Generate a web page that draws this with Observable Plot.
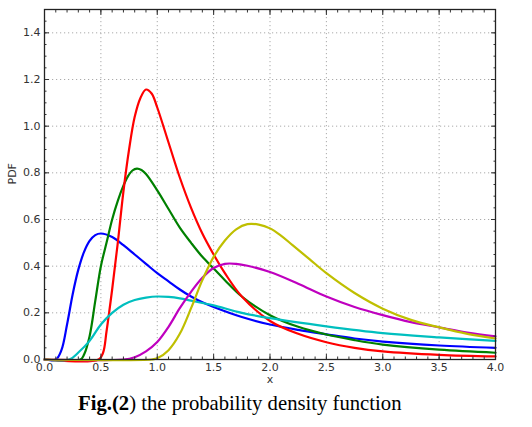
<!DOCTYPE html>
<html><head><meta charset="utf-8">
<script src="https://cdn.jsdelivr.net/npm/d3@7"></script>
<script src="https://cdn.jsdelivr.net/npm/@observablehq/plot@0.6"></script>
<style>
body{margin:0;background:#fff;position:relative;width:532px;height:427px;overflow:hidden}
#cap{font-family:"Liberation Serif","Times New Roman",serif;font-size:20.7px;line-height:1;position:absolute;left:78px;top:393px;white-space:nowrap;color:#000}
</style>
</head><body><div id="chart"></div><div id="cap"><b>Fig.(2</b>) the probability density function</div>
<script>
// series: [x, pdf]
const blue = [[0,0],[0.1,0],[0.15,0.04],[0.2,0.15],[0.25,0.28],[0.3,0.385],[0.35,0.46],[0.4,0.508],[0.45,0.533],[0.5,0.54],[0.6,0.525],[0.7,0.49],[0.8,0.45],[0.9,0.41],[1.0,0.37],[1.1,0.335],[1.2,0.30],[1.3,0.27],[1.4,0.245],[1.5,0.225],[1.75,0.182],[2.0,0.15],[2.25,0.127],[2.5,0.108],[2.75,0.09],[3.0,0.077],[3.5,0.06],[4.0,0.05]];
const green = [[0,0],[0.32,0],[0.35,0.02],[0.4,0.1],[0.45,0.25],[0.5,0.4],[0.55,0.5],[0.6,0.6],[0.65,0.68],[0.7,0.745],[0.74,0.785],[0.78,0.81],[0.82,0.818],[0.86,0.812],[0.9,0.795],[1.0,0.725],[1.1,0.645],[1.2,0.565],[1.3,0.5],[1.4,0.44],[1.5,0.39],[1.6,0.34],[1.75,0.27],[2.0,0.19],[2.25,0.14],[2.5,0.107],[2.75,0.083],[3.0,0.064],[3.5,0.042],[4.0,0.029]];
const red = [[0,0],[0.48,0],[0.52,0.03],[0.55,0.12],[0.6,0.3],[0.65,0.5],[0.7,0.72],[0.75,0.9],[0.8,1.04],[0.85,1.12],[0.9,1.157],[0.95,1.14],[1.0,1.08],[1.1,0.93],[1.2,0.78],[1.3,0.65],[1.4,0.54],[1.5,0.45],[1.6,0.37],[1.75,0.27],[2.0,0.165],[2.25,0.11],[2.5,0.074],[2.75,0.05],[3.0,0.035],[3.5,0.02],[4.0,0.013]];
const cyan = [[0,0],[0.22,0],[0.3,0.03],[0.4,0.08],[0.5,0.15],[0.6,0.2],[0.7,0.235],[0.8,0.255],[0.9,0.265],[1.0,0.27],[1.1,0.268],[1.2,0.262],[1.3,0.252],[1.4,0.242],[1.5,0.232],[1.75,0.2],[2.0,0.177],[2.5,0.142],[3.0,0.113],[3.5,0.095],[4.0,0.08]];
const magenta = [[0,0],[0.7,0],[0.8,0.01],[0.9,0.035],[1.0,0.075],[1.1,0.14],[1.2,0.22],[1.3,0.29],[1.4,0.35],[1.5,0.392],[1.6,0.41],[1.7,0.41],[1.8,0.402],[2.0,0.375],[2.25,0.325],[2.5,0.27],[2.75,0.225],[3.0,0.19],[3.25,0.16],[3.5,0.138],[3.75,0.115],[4.0,0.099]];
const yellow = [[0,0],[0.95,0],[1.0,0.005],[1.1,0.04],[1.2,0.11],[1.3,0.22],[1.4,0.34],[1.5,0.44],[1.6,0.51],[1.7,0.558],[1.8,0.58],[1.9,0.578],[2.0,0.562],[2.1,0.53],[2.2,0.49],[2.35,0.43],[2.5,0.37],[2.75,0.285],[3.0,0.218],[3.25,0.17],[3.5,0.138],[3.75,0.11],[4.0,0.09]];

const seriesNames = ["blue","green","red","cyan","magenta","yellow"];
const seriesColors = ["#0000ff","#008000","#ff0000","#00bfbf","#bf00bf","#bfbf00"];
const seriesData = [blue, green, red, cyan, magenta, yellow];

const xTicks = [0,0.5,1,1.5,2,2.5,3,3.5,4];
const yTicks = [0,0.2,0.4,0.6,0.8,1.0,1.2,1.4];
const xMinor = d3.range(0,41).map(i=>i/10);
const yMinor = d3.range(0,31).map(i=>i/20);

const lines = seriesData.map((pts,i)=>Plot.line(pts.map(([x,y])=>({x,y})),{x:"x",y:"y",stroke:seriesColors[i],strokeWidth:2.2,curve:"catmull-rom"}));

const chart = Plot.plot({
  width:532, height:390,
  marginLeft:44, marginRight:37, marginTop:9, marginBottom:31,
  x:{domain:[0,4]}, y:{domain:[0,1.5]},
  style:{fontFamily:"DejaVu Sans, sans-serif", fontSize:"11px", color:"#333", background:"#fff"},
  marks:[
    Plot.gridX(xTicks.slice(1,-1),{stroke:"#aaa",strokeOpacity:1,strokeDasharray:"1.2,2.8"}),
    Plot.gridY(yTicks.slice(1),{stroke:"#aaa",strokeOpacity:1,strokeDasharray:"1.2,2.8"}),
    ...lines,
    Plot.axisX(xTicks,{tickSize:-5,tickPadding:9,tickFormat:d=>d.toFixed(1),label:null,stroke:"#333"}),
    Plot.axisX(xMinor,{tickSize:-2.5,text:null,label:null,stroke:"#333"}),
    Plot.axisX(xTicks,{anchor:"top",tickSize:-5,text:null,label:null,stroke:"#333"}),
    Plot.axisX(xMinor,{anchor:"top",tickSize:-2.5,text:null,label:null,stroke:"#333"}),
    Plot.axisY(yTicks,{tickSize:-5,tickPadding:9,tickFormat:d=>d.toFixed(1),label:null,stroke:"#333"}),
    Plot.axisY(yMinor,{tickSize:-2.5,text:null,label:null,stroke:"#333"}),
    Plot.axisY(yTicks,{anchor:"right",tickSize:-5,text:null,label:null,stroke:"#333"}),
    Plot.axisY(yMinor,{anchor:"right",tickSize:-2.5,text:null,label:null,stroke:"#333"}),
    Plot.frame({stroke:"#222",strokeWidth:1.3}),
    Plot.text(["x"],{frameAnchor:"bottom",dy:20,lineAnchor:"middle",fontSize:11,text:d=>d,fill:"#333"}),
    Plot.text(["PDF"],{frameAnchor:"left",dx:-32,rotate:-90,text:d=>d,fill:"#333"})
  ]
});
document.getElementById("chart").appendChild(chart);
</script></body></html>
